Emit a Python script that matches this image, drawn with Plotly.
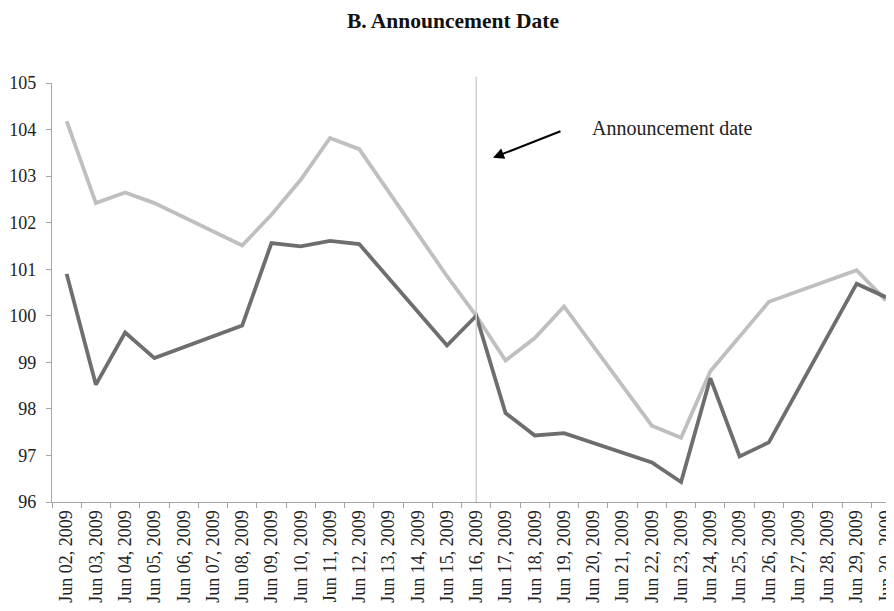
import plotly.graph_objects as go

dates = ["Jun 02, 2009", "Jun 03, 2009", "Jun 04, 2009", "Jun 05, 2009", "Jun 06, 2009",
         "Jun 07, 2009", "Jun 08, 2009", "Jun 09, 2009", "Jun 10, 2009", "Jun 11, 2009",
         "Jun 12, 2009", "Jun 13, 2009", "Jun 14, 2009", "Jun 15, 2009", "Jun 16, 2009",
         "Jun 17, 2009", "Jun 18, 2009", "Jun 19, 2009", "Jun 20, 2009", "Jun 21, 2009",
         "Jun 22, 2009", "Jun 23, 2009", "Jun 24, 2009", "Jun 25, 2009", "Jun 26, 2009",
         "Jun 27, 2009", "Jun 28, 2009", "Jun 29, 2009", "Jun 30, 2009"]

# Weekend days have no observation (line is connected across them)
light_series = [104.18, 102.42, 102.65, 102.42, None, None, 101.51, 102.17, 102.92, 103.82,
                103.58, None, None, 100.85, 100.0, 99.04, 99.52, 100.20, None, None,
                97.64, 97.38, 98.81, 99.56, 100.30, None, None, 100.98, 100.33]
dark_series = [100.90, 98.52, 99.64, 99.09, None, None, 99.79, 101.56, 101.49, 101.61,
               101.54, None, None, 99.36, 100.0, 97.91, 97.43, 97.48, None, None,
               96.85, 96.43, 98.66, 96.98, 97.28, None, None, 100.69, 100.40]

y_ticks = [96, 97, 98, 99, 100, 101, 102, 103, 104, 105]
event_date = "Jun 16, 2009"
title_text = "<b>B. Announcement Date</b>"
note_text = "Announcement date"

FONT = "Liberation Serif"

fig = go.Figure()
fig.add_trace(go.Scatter(x=dates, y=light_series, mode="lines", connectgaps=True,
                         line=dict(color="#BFBFBF", width=3.8), showlegend=False))
fig.add_trace(go.Scatter(x=dates, y=dark_series, mode="lines", connectgaps=True,
                         line=dict(color="#6E6E6E", width=3.8), showlegend=False))

fig.add_shape(type="line", xref="x", yref="paper", x0=event_date, x1=event_date,
              y0=0, y1=1.015, line=dict(color="#D0D0D0", width=1.5))

fig.add_annotation(xref="paper", yref="paper", x=0.633, y=0.893, text=note_text,
                   showarrow=False, xanchor="left", yanchor="middle",
                   font=dict(family=FONT, size=20, color="#222222"))
fig.add_annotation(xref="paper", yref="paper", x=0.5188, y=0.8217, text="",
                   showarrow=True, arrowhead=2, arrowsize=1.1, arrowwidth=2,
                   arrowcolor="#000000", ax=69, ay=-27, axref="pixel", ayref="pixel")

fig.update_layout(
    width=894, height=611,
    paper_bgcolor="white", plot_bgcolor="white",
    margin=dict(l=44, r=0, t=75, b=117, autoexpand=False),
    title=dict(text=title_text, x=0.4977, xref="container", xanchor="center",
               y=0.9795, yref="container", yanchor="middle",
               font=dict(family=FONT, size=21.5, color="#111111")),
    font=dict(family=FONT, color="#222222"),
)
fig.update_xaxes(type="category", range=[-0.5, 28.55], showgrid=False, zeroline=False,
                 showline=True, linecolor="#A6A6A6", linewidth=1.2, automargin=False,
                 ticks="outside", tickson="boundaries", ticklen=5, tickcolor="#A6A6A6",
                 ticklabeloverflow="allow",
                 tickangle=-90, tickfont=dict(family=FONT, size=18, color="#222222"))
fig.update_yaxes(range=[96, 105], tickvals=y_ticks, showgrid=False, zeroline=False,
                 showline=True, linecolor="#A6A6A6", linewidth=1.2, automargin=False,
                 ticks="outside", ticklen=5, tickcolor="#A6A6A6", ticklabelstandoff=6,
                 tickfont=dict(family=FONT, size=18, color="#222222"))

fig.write_html("out.html")
